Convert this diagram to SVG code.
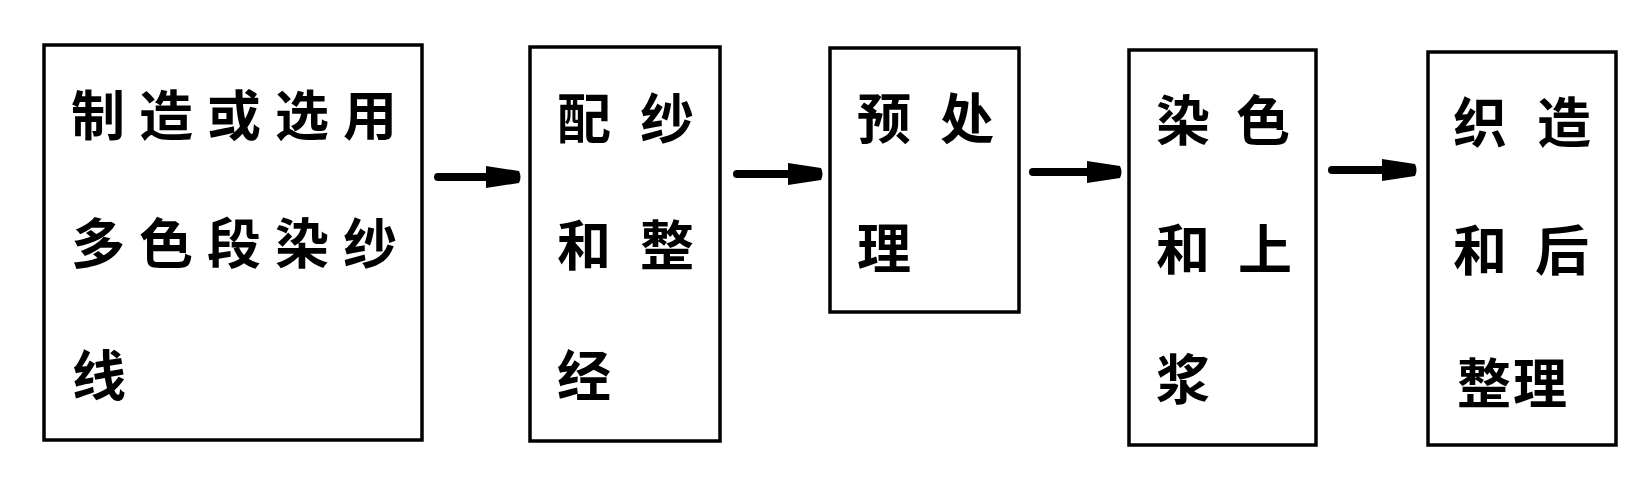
<svg xmlns="http://www.w3.org/2000/svg" width="1637" height="495" viewBox="0 0 1637 495">
  <style>
    .box { fill: #ffffff; stroke: #000000; stroke-width: 3.5; }
    .t { font-family: "Noto Sans CJK SC", "Noto Sans CJK TC", sans-serif; font-size: 54px; font-weight: bold; fill: #000000; text-anchor: middle; dominant-baseline: central; }
    .conn { stroke: #000000; stroke-width: 8; stroke-linecap: round; fill: none; marker-end: url(#arrow); }
  </style>
  <defs>
    <marker id="arrow" viewBox="0 0 36 22" refX="4" refY="11" markerWidth="36" markerHeight="22" markerUnits="userSpaceOnUse" orient="auto">
      <path d="M0,0 L33,5 Q36,11 33,17 L0,22 Z" fill="#000000"/>
    </marker>
  </defs>
  <rect width="1637" height="495" fill="#ffffff"/>

  <g id="node1">
    <rect class="box" x="44" y="45" width="378" height="395"/>
    <text class="t" x="98" y="112">制</text>
    <text class="t" x="166" y="112">造</text>
    <text class="t" x="234" y="112">或</text>
    <text class="t" x="302" y="112">选</text>
    <text class="t" x="370" y="112">用</text>
    <text class="t" x="98" y="240">多</text>
    <text class="t" x="166" y="240">色</text>
    <text class="t" x="234" y="240">段</text>
    <text class="t" x="302" y="240">染</text>
    <text class="t" x="370" y="240">纱</text>
    <text class="t" x="99" y="372">线</text>
  </g>

  <g id="node2">
    <rect class="box" x="530" y="47" width="190" height="394"/>
    <text class="t" x="584" y="115">配</text>
    <text class="t" x="667" y="115">纱</text>
    <text class="t" x="584" y="242">和</text>
    <text class="t" x="667" y="242">整</text>
    <text class="t" x="584" y="372">经</text>
  </g>

  <g id="node3">
    <rect class="box" x="830" y="48" width="189" height="264"/>
    <text class="t" x="884" y="115">预</text>
    <text class="t" x="967" y="115">处</text>
    <text class="t" x="884" y="245">理</text>
  </g>

  <g id="node4">
    <rect class="box" x="1129" y="50" width="187" height="395"/>
    <text class="t" x="1183" y="117">染</text>
    <text class="t" x="1263" y="117">色</text>
    <text class="t" x="1183" y="246">和</text>
    <text class="t" x="1265" y="246">上</text>
    <text class="t" x="1183" y="376">浆</text>
  </g>

  <g id="node5">
    <rect class="box" x="1428" y="52" width="188" height="393"/>
    <text class="t" x="1480" y="119">织</text>
    <text class="t" x="1564" y="119">造</text>
    <text class="t" x="1480" y="247">和</text>
    <text class="t" x="1562" y="247">后</text>
    <text class="t" x="1484" y="380">整</text>
    <text class="t" x="1540" y="380">理</text>
  </g>

  <g id="connectors">
    <path class="conn" d="M438,177 L490,177"/>
    <path class="conn" d="M737,174 L792,174"/>
    <path class="conn" d="M1033,172 L1091,172"/>
    <path class="conn" d="M1332,170 L1386,170"/>
  </g>
</svg>
